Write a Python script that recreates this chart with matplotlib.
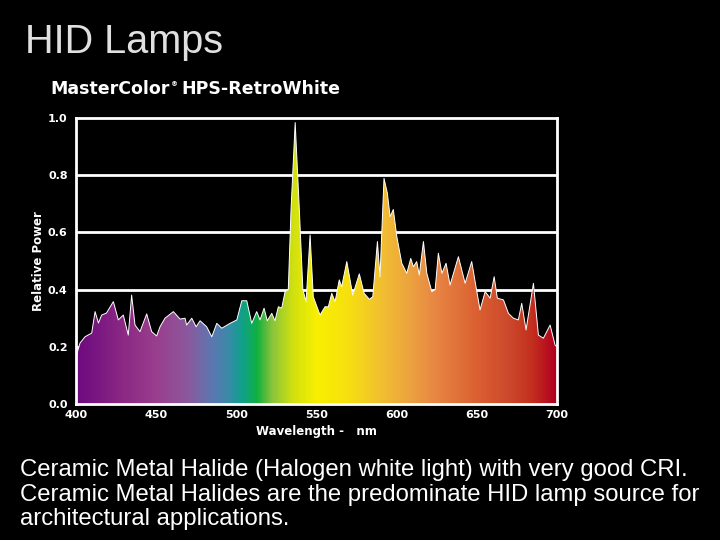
import numpy as np
import matplotlib
matplotlib.use("Agg")
import matplotlib.pyplot as plt
from matplotlib.colors import LinearSegmentedColormap

# spectral power distribution
wavelength = [400, 402.5, 405.6, 409.8, 411.9, 414, 416, 419, 423.3, 426.4,
              429.5, 432.6, 434.7, 436.8, 439.9, 444.1, 447.2, 450.3, 452.4, 455.5,
              460.7, 464.9, 468, 469, 472.2, 474.9, 477.4, 481.5, 484.7, 487.8,
              490.9, 496.1, 500.3, 503.4, 506.5, 509.6, 512.7, 514.8, 517.3, 519.3,
              522.1, 524.1, 526.2, 528.3, 530.4, 532.4, 534.1, 536.7, 539.3, 541.5,
              543.5, 546, 548, 552.2, 555.3, 557.4, 559.5, 561.6, 564.2, 565.7,
              568.9, 572.6, 576.7, 579.7, 583, 585.1, 588, 589.6, 592.1, 594.2,
              595.9, 597.9, 600.1, 603.2, 606.3, 608.8, 610.4, 612.5, 614.1, 616.7,
              618.8, 621.9, 624, 626, 628.2, 630.8, 633.3, 638.5, 642.7, 646.8,
              650, 652, 655.2, 658.3, 660.8, 662.8, 666.6, 669.7, 672.8, 675.9,
              678, 680.7, 685.3, 688.4, 691.5, 695.7, 698.8, 700]
power = [0.165, 0.213, 0.235, 0.248, 0.323, 0.283, 0.311, 0.318, 0.358, 0.294,
         0.311, 0.241, 0.381, 0.276, 0.253, 0.315, 0.253, 0.238, 0.27, 0.30,
         0.323, 0.297, 0.30, 0.276, 0.30, 0.27, 0.291, 0.27, 0.235, 0.282,
         0.265, 0.282, 0.294, 0.361, 0.361, 0.282, 0.323, 0.294, 0.335, 0.291,
         0.317, 0.291, 0.34, 0.335, 0.393, 0.40, 0.678, 0.984, 0.678, 0.40,
         0.358, 0.591, 0.375, 0.311, 0.34, 0.34, 0.387, 0.358, 0.434, 0.41,
         0.498, 0.381, 0.455, 0.387, 0.366, 0.375, 0.568, 0.445, 0.789, 0.737,
         0.655, 0.68, 0.585, 0.492, 0.457, 0.509, 0.48, 0.498, 0.451, 0.568,
         0.457, 0.393, 0.40, 0.527, 0.457, 0.492, 0.416, 0.515, 0.422, 0.498,
         0.393, 0.329, 0.393, 0.37, 0.445, 0.37, 0.364, 0.317, 0.30, 0.294,
         0.352, 0.259, 0.422, 0.241, 0.23, 0.276, 0.206, 0.20]

x_ticks = [400, 450, 500, 550, 600, 650, 700]
y_ticks = [0.0, 0.2, 0.4, 0.6, 0.8, 1.0]

# colour of the fill along the wavelength axis
color_nm = [400, 430, 450, 470, 485, 495, 503, 513, 522, 535, 550,
            570, 590, 610, 625, 640, 655, 670, 685, 700]
color_hex = ["#6e0a80", "#8c2a84", "#9a3e8e", "#8a5a9e", "#5a78b0", "#3a8aa8",
             "#10a08c", "#10b040", "#88c43c", "#d0e010", "#f8f000",
             "#f6e010", "#f2c030", "#eca040", "#e88544", "#e07038", "#d85a30",
             "#cc4a2c", "#c4301e", "#b00020"]

caption_lines = ["Ceramic Metal Halide (Halogen white light) with very good CRI.",
                 "Ceramic Metal Halides are the predominate HID lamp source for",
                 "architectural applications."]

fig = plt.figure(figsize=(7.2, 5.4), dpi=100, facecolor="black")
ax = fig.add_axes([76 / 720, 1 - 404 / 540, 481 / 720, 286 / 540])
ax.set_facecolor("black")

stops = [(n - 400) / 300 for n in color_nm]
cmap = LinearSegmentedColormap.from_list("spec", list(zip(stops, color_hex)))
grad = np.linspace(0, 1, 600).reshape(1, -1)
poly = ax.fill_between(wavelength, 0, power, color="none", lw=0)
img = ax.imshow(grad, extent=[400, 700, 0, 1.0], aspect="auto", cmap=cmap,
                origin="lower", zorder=1)
img.set_clip_path(poly.get_paths()[0], transform=ax.transData)
ax.plot(wavelength, power, color="white", lw=0.7, zorder=2)

for yv in y_ticks[1:-1]:
    ax.axhline(yv, color="white", lw=2, zorder=0.5)

ax.set_xlim(400, 700)
ax.set_ylim(0, 1.0)
for s in ax.spines.values():
    s.set_color("white")
    s.set_linewidth(2)
ax.set_xticks(x_ticks)
ax.set_yticks(y_ticks)
ax.set_yticklabels([f"{v:.1f}" for v in y_ticks])
ax.tick_params(length=0, colors="white", labelsize=8)
ax.tick_params(axis="x", pad=4)
ax.tick_params(axis="y", pad=6)
for lab in ax.get_xticklabels() + ax.get_yticklabels():
    lab.set_fontweight("bold")
ax.set_xlabel("Wavelength -   nm", color="white", fontsize=8.5,
              fontweight="bold", labelpad=4)
ax.set_ylabel("Relative Power", color="white", fontsize=8.5,
              fontweight="bold", labelpad=2)

fig.text(25 / 720, 1 - 42 / 540, "HID Lamps", color="#e0e0e0", fontsize=28.5,
         family="Liberation Sans", va="center", ha="left")
fig.text(50 / 720, 1 - 89 / 540, "MasterColor", color="white", fontsize=12.5,
         fontweight="bold", va="center", ha="left")
fig.text(171 / 720, 1 - 84 / 540, "\u00ae", color="white", fontsize=5,
         fontweight="bold", va="center", ha="left")
fig.text(181 / 720, 1 - 89 / 540, "HPS-RetroWhite", color="white", fontsize=12.5,
         fontweight="bold", va="center", ha="left")

for i, line in enumerate(caption_lines):
    fig.text(20 / 720, 1 - (476 + 24.5 * i) / 540, line, color="white",
             fontsize=17.2, family="Liberation Sans", va="baseline", ha="left")

fig.savefig("out.png", dpi=100, facecolor="black")
